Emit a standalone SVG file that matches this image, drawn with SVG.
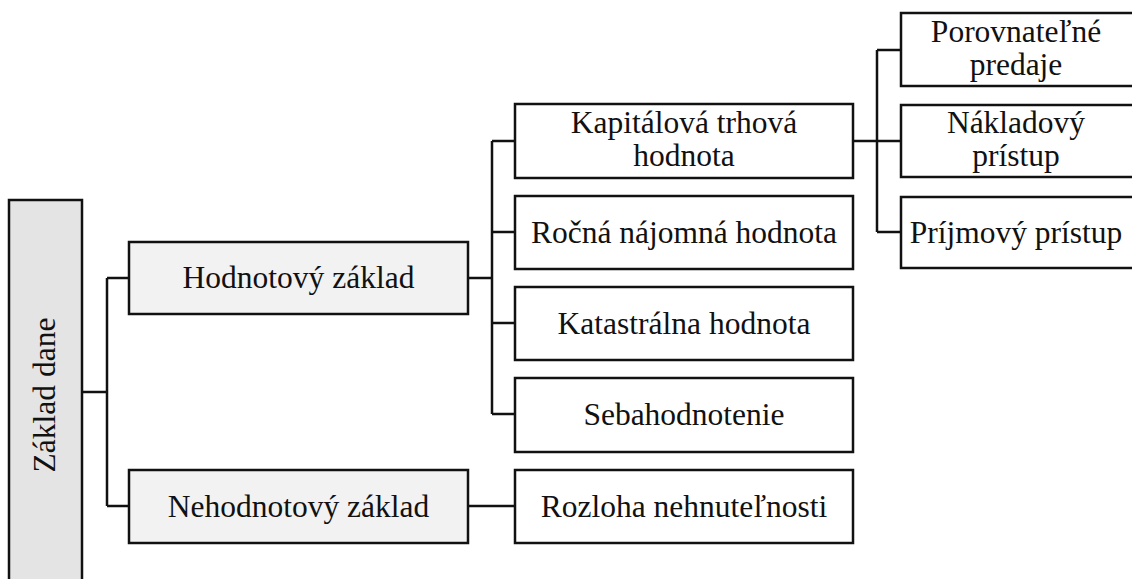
<svg xmlns="http://www.w3.org/2000/svg" width="1132" height="579" viewBox="0 0 1132 579">
<style>
.box{stroke:#111;stroke-width:2.5;fill:#fff}
.g1{fill:#f2f2f2}
.g0{fill:#e4e4e4}
.t{font-family:"Liberation Serif","Times New Roman",serif;font-size:31.5px;fill:#111;text-anchor:middle}
.c{stroke:#111;stroke-width:2.5;fill:none}
</style>
<rect width="1132" height="579" fill="#fff"/>
<g id="connectors">
<path class="c" d="M82 392H107M107 278V506M107 278H130M107 506H130"/>
<path class="c" d="M468 278H492M492 141V414M492 141H515M492 232H515M492 323H515M492 414H515"/>
<path class="c" d="M468 506H515"/>
<path class="c" d="M853 141H877M877 50V232M877 50H901M877 141H901M877 232H901"/>
</g>
<g id="root">
<rect class="box g0" x="9" y="200" width="73" height="400"/>
<text class="t" transform="translate(55 395) rotate(-90)" x="0" y="0">Základ dane</text>
</g>
<g id="hodnotovy">
<rect class="box g1" x="129" y="242" width="339" height="72"/>
<text class="t" x="298.5" y="288">Hodnotový základ</text>
</g>
<g id="nehodnotovy">
<rect class="box g1" x="129" y="470" width="339" height="73"/>
<text class="t" x="298.5" y="517">Nehodnotový základ</text>
</g>
<g id="kapitalova">
<rect class="box" x="515" y="104" width="338" height="74"/>
<text class="t" x="684" y="133">Kapitálová trhová</text>
<text class="t" x="684" y="166">hodnota</text>
</g>
<g id="rocna">
<rect class="box" x="515" y="196" width="338" height="73"/>
<text class="t" x="684" y="243">Ročná nájomná hodnota</text>
</g>
<g id="katastralna">
<rect class="box" x="515" y="287" width="338" height="73"/>
<text class="t" x="684" y="334">Katastrálna hodnota</text>
</g>
<g id="sebahodnotenie">
<rect class="box" x="515" y="378" width="338" height="74"/>
<text class="t" x="684" y="425">Sebahodnotenie</text>
</g>
<g id="rozloha">
<rect class="box" x="515" y="470" width="338" height="73"/>
<text class="t" x="684" y="517">Rozloha nehnuteľnosti</text>
</g>
<g id="porovnatelne">
<rect class="box" x="901" y="13" width="240" height="73"/>
<text class="t" x="1016" y="42">Porovnateľné</text>
<text class="t" x="1016" y="75">predaje</text>
</g>
<g id="nakladovy">
<rect class="box" x="901" y="105" width="240" height="72"/>
<text class="t" x="1016" y="133">Nákladový</text>
<text class="t" x="1016" y="166">prístup</text>
</g>
<g id="prijmovy">
<rect class="box" x="901" y="197" width="240" height="71"/>
<text class="t" x="1016" y="243">Príjmový prístup</text>
</g>
</svg>
